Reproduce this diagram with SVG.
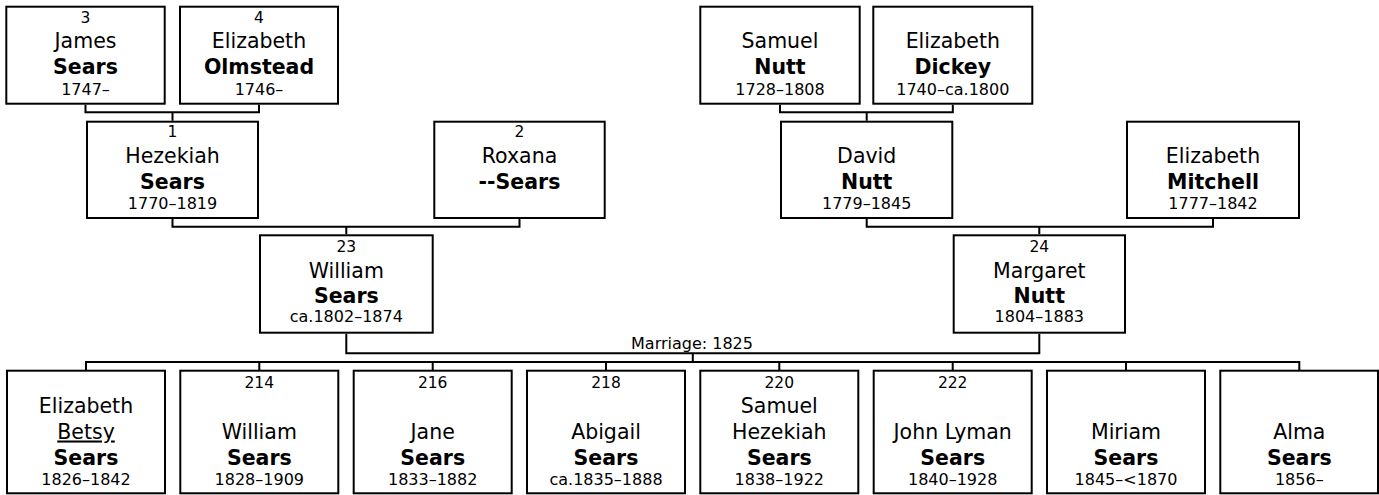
<svg xmlns="http://www.w3.org/2000/svg" width="1379" height="495" viewBox="0 0 1379 495">
<style>
.box{fill:#fff;stroke:#000;stroke-width:2}
.con{fill:none;stroke:#000;stroke-width:2}
text{font-family:"DejaVu Sans",Verdana,sans-serif;fill:#000;text-anchor:middle}
.num{font-size:15.5px}
.nm{font-size:20.5px}
.sn{font-size:20.5px;font-weight:bold}
.dt{font-size:16px}
.mar{font-size:16px}
</style>
<rect width="1379" height="495" fill="#fff"/>
<g id="connectors">
<path class="con" d="M85.5 104.7V112.3H259V104.7M172.5 112.3V120.7"/>
<path class="con" d="M780 104.7V112.3H952.8V104.7M866.7 112.3V120.7"/>
<path class="con" d="M172.5 219V226.7H519.5V219M346.3 226.7V234.3"/>
<path class="con" d="M866.7 219V226.7H1213V219M1039.3 226.7V234.3"/>
<path class="con" d="M346.3 333.7V353.3H1039.3V333.7M692.8 353.3V362"/>
<path class="con" d="M86 370V362H1299.3V370M259.3 362V370M432.7 362V370M606 362V370M779.3 362V370M952.7 362V370M1126 362V370"/>
<text class="mar" x="692" y="349">Marriage: 1825</text>
</g>
<g id="n3"><rect class="box" x="6.3" y="6.7" width="158.4" height="97"/>
<text class="num" x="85.5" y="22.7">3</text><text class="nm" x="85.5" y="48.3">James</text><text class="sn" x="85.5" y="74">Sears</text><text class="dt" x="85.5" y="95">1747–</text></g>
<g id="n4"><rect class="box" x="180" y="6.7" width="158" height="97"/>
<text class="num" x="259" y="22.7">4</text><text class="nm" x="259" y="48.3">Elizabeth</text><text class="sn" x="259" y="74">Olmstead</text><text class="dt" x="259" y="95">1746–</text></g>
<g id="samuel-nutt"><rect class="box" x="700.3" y="6.7" width="159.4" height="97"/>
<text class="nm" x="780" y="48.3">Samuel</text><text class="sn" x="780" y="74">Nutt</text><text class="dt" x="780" y="95">1728–1808</text></g>
<g id="elizabeth-dickey"><rect class="box" x="873.3" y="6.7" width="159" height="97"/>
<text class="nm" x="952.8" y="48.3">Elizabeth</text><text class="sn" x="952.8" y="74">Dickey</text><text class="dt" x="952.8" y="95">1740–ca.1800</text></g>
<g id="n1"><rect class="box" x="87" y="121.7" width="171" height="96.3"/>
<text class="num" x="172.5" y="137">1</text><text class="nm" x="172.5" y="163.3">Hezekiah</text><text class="sn" x="172.5" y="188.5">Sears</text><text class="dt" x="172.5" y="208.5">1770–1819</text></g>
<g id="n2"><rect class="box" x="434.3" y="121.7" width="170.4" height="96.3"/>
<text class="num" x="519.5" y="137">2</text><text class="nm" x="519.5" y="163.3">Roxana</text><text class="sn" x="519.5" y="188.5">--Sears</text></g>
<g id="david-nutt"><rect class="box" x="781" y="121.7" width="171.3" height="96.3"/>
<text class="nm" x="866.7" y="163.3">David</text><text class="sn" x="866.7" y="188.5">Nutt</text><text class="dt" x="866.7" y="208.5">1779–1845</text></g>
<g id="elizabeth-mitchell"><rect class="box" x="1127" y="121.7" width="172" height="96.3"/>
<text class="nm" x="1213" y="163.3">Elizabeth</text><text class="sn" x="1213" y="188.5">Mitchell</text><text class="dt" x="1213" y="208.5">1777–1842</text></g>
<g id="n23"><rect class="box" x="260" y="235.3" width="172.7" height="97.4"/>
<text class="num" x="346.3" y="251.7">23</text><text class="nm" x="346.3" y="277.7">William</text><text class="sn" x="346.3" y="303">Sears</text><text class="dt" x="346.3" y="322">ca.1802–1874</text></g>
<g id="n24"><rect class="box" x="953.7" y="235.3" width="171.3" height="97.4"/>
<text class="num" x="1039.3" y="251.7">24</text><text class="nm" x="1039.3" y="277.7">Margaret</text><text class="sn" x="1039.3" y="303">Nutt</text><text class="dt" x="1039.3" y="322">1804–1883</text></g>
<g id="c-elizabeth"><rect class="box" x="7" y="370.7" width="158" height="122.6"/>
<text class="nm" x="86" y="412.5">Elizabeth</text><text class="nm" x="86" y="438.5" text-decoration="underline">Betsy</text><text class="sn" x="86" y="464.5">Sears</text><text class="dt" x="86" y="484.5">1826–1842</text></g>
<g id="n214"><rect class="box" x="180.3" y="370.7" width="158" height="122.6"/>
<text class="num" x="259.3" y="388">214</text><text class="nm" x="259.3" y="438.5">William</text><text class="sn" x="259.3" y="464.5">Sears</text><text class="dt" x="259.3" y="484.5">1828–1909</text></g>
<g id="n216"><rect class="box" x="353.7" y="370.7" width="158" height="122.6"/>
<text class="num" x="432.7" y="388">216</text><text class="nm" x="432.7" y="438.5">Jane</text><text class="sn" x="432.7" y="464.5">Sears</text><text class="dt" x="432.7" y="484.5">1833–1882</text></g>
<g id="n218"><rect class="box" x="527" y="370.7" width="158" height="122.6"/>
<text class="num" x="606" y="388">218</text><text class="nm" x="606" y="438.5">Abigail</text><text class="sn" x="606" y="464.5">Sears</text><text class="dt" x="606" y="484.5">ca.1835–1888</text></g>
<g id="n220"><rect class="box" x="700.3" y="370.7" width="158" height="122.6"/>
<text class="num" x="779.3" y="388">220</text><text class="nm" x="779.3" y="412.5">Samuel</text><text class="nm" x="779.3" y="438.5">Hezekiah</text><text class="sn" x="779.3" y="464.5">Sears</text><text class="dt" x="779.3" y="484.5">1838–1922</text></g>
<g id="n222"><rect class="box" x="873.7" y="370.7" width="158" height="122.6"/>
<text class="num" x="952.7" y="388">222</text><text class="nm" x="952.7" y="438.5">John Lyman</text><text class="sn" x="952.7" y="464.5">Sears</text><text class="dt" x="952.7" y="484.5">1840–1928</text></g>
<g id="c-miriam"><rect class="box" x="1047" y="370.7" width="158" height="122.6"/>
<text class="nm" x="1126" y="438.5">Miriam</text><text class="sn" x="1126" y="464.5">Sears</text><text class="dt" x="1126" y="484.5">1845–&lt;1870</text></g>
<g id="c-alma"><rect class="box" x="1220.3" y="370.7" width="157.7" height="122.6"/>
<text class="nm" x="1299.3" y="438.5">Alma</text><text class="sn" x="1299.3" y="464.5">Sears</text><text class="dt" x="1299.3" y="484.5">1856–</text></g>
</svg>
